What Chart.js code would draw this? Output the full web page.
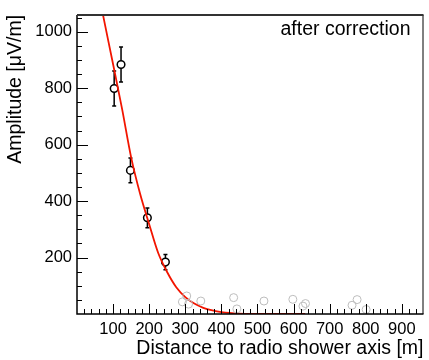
<!DOCTYPE html>
<html>
<head>
<meta charset="utf-8">
<script src="https://cdn.jsdelivr.net/npm/chart.js@4.4.1/dist/chart.umd.min.js"></script>
<style>
  html, body { margin: 0; padding: 0; background: #fff; }
  #wrap { width: 429px; height: 360px; }
</style>
</head>
<body>
<div id="wrap"><canvas id="c"></canvas></div>
<script>
'use strict';

// stations with signal (distance [m], amplitude [uV/m], error)
const sigX = [103, 122, 148, 195, 245];
const sigY = [799, 884, 509, 341, 184];
const sigErr = [62, 62, 44, 35, 27];

// stations below threshold
const noiseX = [292, 304, 309, 343, 434, 443, 518, 598, 626, 633, 762, 776, 801];
const noiseY = [43, 64, 35, 46, 58, 18, 46, 52, 28, 37, 31, 51, 16];

// fitted lateral distribution
const fitX = [65, 72, 100, 125, 150, 175, 200, 225, 250, 275, 300, 325, 350, 375, 400, 450, 500, 550, 600, 632];
const fitY = [1105, 1060, 885, 726, 555, 425, 318, 216, 148, 95, 60, 37, 22, 13, 7, 1.5, 0.3, 0, 0, 0];

const xTickLabels = [100, 200, 300, 400, 500, 600, 700, 800, 900];
const yTickLabels = [200, 400, 600, 800, 1000];

const FONT = 'Liberation Sans, Arial, Helvetica, sans-serif';

const toPts = (xs, ys) => xs.map((x, i) => ({x: x, y: ys[i]}));

/**
 * error bars, inside ticks and frame, ROOT style
 */
const rootFrame = {
    id: 'rootFrame',
    beforeDatasetsDraw: function (chart) {
        const ctx = chart.ctx;
        const xs = chart.scales.x;
        const ys = chart.scales.y;

        ctx.save();
        ctx.strokeStyle = '#000';
        ctx.lineWidth = 1.5;
        sigX.forEach(function (x, i) {
            const px = xs.getPixelForValue(x);
            const top = ys.getPixelForValue(sigY[i] + sigErr[i]);
            const bot = ys.getPixelForValue(sigY[i] - sigErr[i]);
            ctx.beginPath();
            ctx.moveTo(px, top);
            ctx.lineTo(px, bot);
            ctx.moveTo(px - 2, top);
            ctx.lineTo(px + 2, top);
            ctx.moveTo(px - 2, bot);
            ctx.lineTo(px + 2, bot);
            ctx.stroke();
        });
        ctx.restore();
    },
    afterDraw: function (chart) {
        const ctx = chart.ctx;
        const a = chart.chartArea;
        const xs = chart.scales.x;
        const ys = chart.scales.y;
        let v;

        ctx.save();
        ctx.strokeStyle = '#000';
        ctx.lineWidth = 1;
        ctx.beginPath();
        for (v = 20; v < xs.max; v += 20) {
            const px = Math.round(xs.getPixelForValue(v)) + 0.5;
            ctx.moveTo(px, a.bottom);
            ctx.lineTo(px, a.bottom - (v % 100 === 0 ? 10 : 5));
        }
        for (v = 50; v < ys.max; v += 50) {
            const py = Math.round(ys.getPixelForValue(v)) + 0.5;
            ctx.moveTo(a.left, py);
            ctx.lineTo(a.left + (v % 200 === 0 ? 11 : 5), py);
        }
        ctx.stroke();

        // axes
        ctx.lineWidth = 1.5;
        ctx.beginPath();
        ctx.moveTo(a.left, a.top);
        ctx.lineTo(a.left, a.bottom);
        ctx.lineTo(a.right, a.bottom);
        ctx.stroke();

        // frame
        ctx.lineWidth = 1;
        ctx.beginPath();
        ctx.moveTo(a.right - 0.5, a.top);
        ctx.lineTo(a.right - 0.5, a.bottom);
        ctx.stroke();
        ctx.strokeStyle = '#333';
        ctx.lineWidth = 2;
        ctx.beginPath();
        ctx.moveTo(a.left, a.top);
        ctx.lineTo(a.right, a.top);
        ctx.stroke();

        ctx.fillStyle = '#000';
        ctx.font = '19.5px ' + FONT;
        ctx.textAlign = 'right';
        ctx.textBaseline = 'middle';
        ctx.fillText('after correction', a.right - 13, 30);
        ctx.restore();
    }
};

new Chart(document.getElementById('c'), {
    type: 'scatter',
    data: {
        datasets: [{
            label: 'noise',
            data: toPts(noiseX, noiseY),
            borderColor: '#bdbdbd',
            backgroundColor: 'rgba(0,0,0,0)',
            borderWidth: 1,
            pointRadius: 4
        }, {
            type: 'line',
            label: 'fit',
            data: toPts(fitX, fitY),
            borderColor: '#f21500',
            borderWidth: 1.8,
            pointRadius: 0,
            cubicInterpolationMode: 'monotone',
            fill: false
        }, {
            label: 'signal',
            data: toPts(sigX, sigY),
            borderColor: '#000',
            backgroundColor: '#fff',
            borderWidth: 1.5,
            pointRadius: 3.8
        }]
    },
    options: {
        responsive: true,
        maintainAspectRatio: false,
        animation: false,
        events: [],
        layout: {
            padding: {left: 0, right: 1, top: 9, bottom: 0}
        },
        plugins: {
            legend: {display: false},
            tooltip: {enabled: false}
        },
        scales: {
            x: {
                type: 'linear',
                min: 0,
                max: 960,
                border: {display: false},
                grid: {display: false, drawTicks: false},
                afterBuildTicks: function (s) {
                    s.ticks = xTickLabels.map(v => ({value: v}));
                },
                ticks: {
                    padding: 6,
                    color: '#000',
                    maxRotation: 0,
                    autoSkip: false,
                    font: {family: FONT, size: 16.5},
                    callback: v => String(v)
                },
                title: {
                    display: true,
                    text: 'Distance to radio shower axis [m]',
                    align: 'end',
                    color: '#000',
                    font: {family: FONT, size: 19.5},
                    padding: {top: 0, bottom: 0}
                },
                afterFit: function (s) {
                    s.height = 46;
                }
            },
            y: {
                type: 'linear',
                min: 0,
                max: 1060,
                border: {display: false},
                grid: {display: false, drawTicks: false},
                afterBuildTicks: function (s) {
                    s.ticks = yTickLabels.map(v => ({value: v}));
                },
                ticks: {
                    padding: 5,
                    color: '#000',
                    autoSkip: false,
                    font: {family: FONT, size: 16.5},
                    callback: v => String(v)
                },
                title: {
                    display: true,
                    text: 'Amplitude [\u03bcV/m]',
                    align: 'end',
                    color: '#000',
                    font: {family: FONT, size: 19.5},
                    padding: {top: 4, bottom: 0}
                },
                afterFit: function (s) {
                    s.width = 77;
                }
            }
        }
    },
    plugins: [rootFrame]
});
</script>
</body>
</html>
